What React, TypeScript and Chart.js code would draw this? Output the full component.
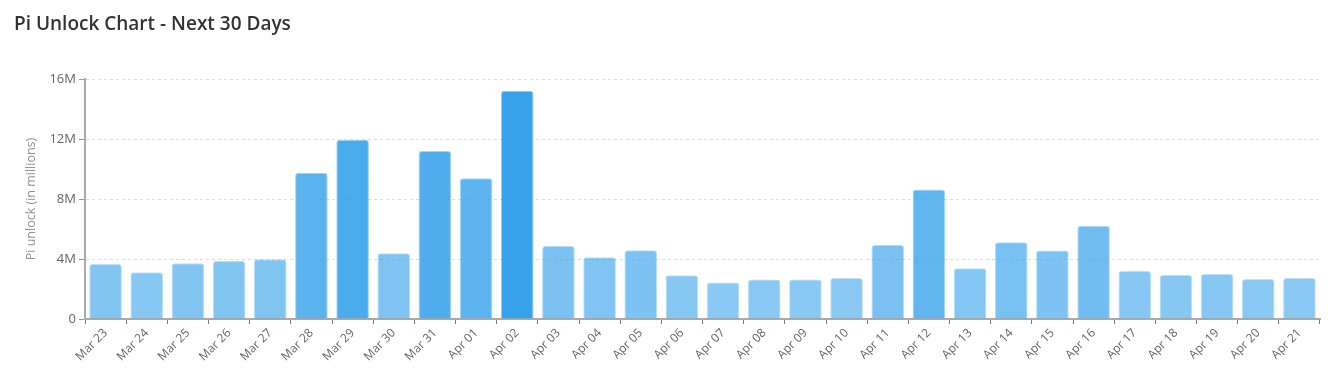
import React, { useEffect, useRef } from 'react';
import { Chart, registerables } from 'chart.js';

Chart.register(...registerables);

const chartTitle = 'Pi Unlock Chart - Next 30 Days';
const yAxisTitle = 'Pi unlock (in millions)';

const dates = [
  'Mar 23', 'Mar 24', 'Mar 25', 'Mar 26', 'Mar 27', 'Mar 28', 'Mar 29', 'Mar 30', 'Mar 31',
  'Apr 01', 'Apr 02', 'Apr 03', 'Apr 04', 'Apr 05', 'Apr 06', 'Apr 07', 'Apr 08', 'Apr 09',
  'Apr 10', 'Apr 11', 'Apr 12', 'Apr 13', 'Apr 14', 'Apr 15', 'Apr 16', 'Apr 17', 'Apr 18',
  'Apr 19', 'Apr 20', 'Apr 21',
];

// Pi unlocked per day, in millions
const unlockMillions = [
  3.67, 3.11, 3.71, 3.87, 3.98, 9.75, 11.95, 4.38, 11.2,
  9.38, 15.22, 4.87, 4.11, 4.58, 2.91, 2.44, 2.64, 2.64,
  2.73, 4.93, 8.64, 3.38, 5.11, 4.56, 6.22, 3.2, 2.93,
  3.0, 2.67, 2.73,
];

const yMin = 0;
const yMax = 16;
const yStep = 4;

export default function App() {
  const canvasRef = useRef<HTMLCanvasElement | null>(null);

  useEffect(() => {
    document.body.style.margin = '0';
    const canvas = canvasRef.current;
    if (!canvas) return;
    const maxVal = Math.max(...unlockMillions);
    const alphas = unlockMillions.map((v) => 0.5 + 0.5 * (v / maxVal));
    const bg = alphas.map((a) => `rgba(54,162,235,${a.toFixed(3)})`);
    const bd = alphas.map((a) => `rgba(54,162,235,${(a * 0.55).toFixed(3)})`);

    const chart = new Chart(canvas, {
      type: 'bar',
      data: {
        labels: dates,
        datasets: [
          {
            label: 'Pi unlock',
            data: unlockMillions,
            backgroundColor: bg,
            borderColor: bd,
            borderWidth: 1,
            borderRadius: 3,
            borderSkipped: 'start',
            categoryPercentage: 0.8,
            barPercentage: 0.99,
          },
        ],
      },
      options: {
        animation: false,
        responsive: false,
        maintainAspectRatio: false,
        layout: { padding: { top: 79, right: 17, bottom: 0, left: 0 } },
        plugins: {
          legend: { display: false },
          tooltip: { enabled: false },
          title: { display: false },
        },
        scales: {
          x: {
            afterFit: (scale: any) => {
              scale.height = 57;
            },
            grid: {
              drawOnChartArea: false,
              drawTicks: true,
              tickLength: 5,
              tickColor: '#777',
              tickWidth: 1,
            },
            border: { display: true, color: '#aaa', width: 2 },
            ticks: {
              color: '#666',
              font: { family: 'Open Sans', size: 12 },
              maxRotation: 45,
              minRotation: 45,
              padding: 2,
              autoSkip: false,
            },
          },
          y: {
            min: yMin,
            max: yMax,
            afterFit: (scale: any) => {
              scale.width = 85;
            },
            title: {
              display: true,
              text: yAxisTitle,
              color: '#8a9494',
              font: { family: 'Open Sans', size: 12.5 },
              padding: { top: 24, bottom: 0 },
            },
            grid: {
              color: '#dcdcdc',
              lineWidth: 1,
              drawTicks: true,
              tickLength: 6,
              tickColor: '#999',
              tickWidth: 1,
              tickBorderDash: [],
            },
            border: { display: true, color: '#aaa', width: 2, dash: [3, 3] },
            ticks: {
              stepSize: yStep,
              color: '#666',
              padding: 3,
              font: { family: 'Open Sans', size: 13 },
              callback: (v: any) => (Number(v) === 0 ? '0' : `${v}M`),
            },
          },
        },
      },
    });
    return () => chart.destroy();
  }, []);

  return (
    <div style={{ position: 'relative', width: 1337, height: 376, background: '#fff' }}>
      <div
        style={{
          position: 'absolute',
          left: 14,
          top: 8,
          fontFamily: "'Open Sans', sans-serif",
          fontWeight: 600,
          fontSize: 19,
          color: '#333',
          lineHeight: '30px',
          whiteSpace: 'nowrap',
        }}
      >
        {chartTitle}
      </div>
      <canvas ref={canvasRef} width={1337} height={376} style={{ display: 'block' }} />
    </div>
  );
}
